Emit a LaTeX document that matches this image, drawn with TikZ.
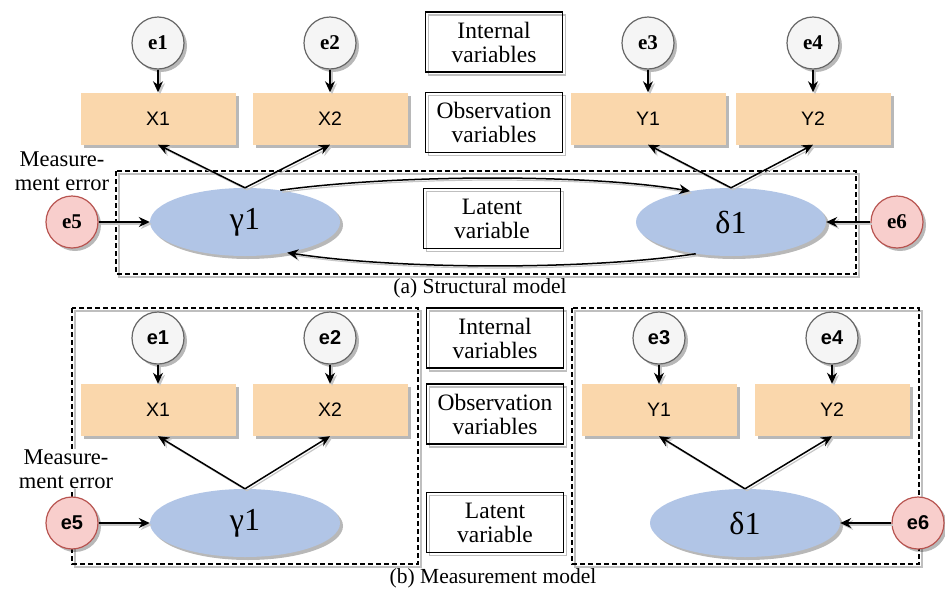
\documentclass[tikz,border=0pt]{standalone}
\usepackage{fontspec}
\setmainfont{Liberation Serif}
\newfontfamily\sansf{Liberation Sans}
\newfontfamily\grkf{Liberation Serif}
\usetikzlibrary{shadows,arrows.meta,shapes.geometric}
\definecolor{obsfill}{RGB}{250,215,172}
\definecolor{latfill}{RGB}{177,197,230}
\definecolor{errfill}{RGB}{245,245,245}
\definecolor{errdraw}{RGB}{102,102,102}
\definecolor{redfill}{RGB}{248,206,204}
\definecolor{reddraw}{RGB}{184,84,80}
\tikzset{
 shad/.style={drop shadow={shadow xshift=3pt, shadow yshift=-3pt, fill=black, opacity=0.28}},
 errc/.style={circle, minimum size=52pt, inner sep=0pt, fill=errfill, draw=errdraw, line width=1.2pt, shad},
 errtop/.style={errc, font=\fontsize{21}{23}\selectfont\bfseries},
 errbot/.style={errc, font=\sansf\fontsize{20}{22}\selectfont\bfseries},
 redtop/.style={errtop, fill=redfill, draw=reddraw},
 redbot/.style={errbot, fill=redfill, draw=reddraw},
 obs/.style={rectangle, minimum width=155pt, minimum height=52pt, fill=obsfill, shad, font=\sansf\fontsize{19.5}{22}\selectfont},
 lat/.style={ellipse, minimum width=190pt, minimum height=68pt, inner sep=0pt, fill=latfill, shad, font=\grkf\fontsize{32}{34}\selectfont},
 legend/.style={rectangle, draw, line width=1.5pt, minimum width=137pt, minimum height=60pt, inner sep=0pt, align=center, font=\fontsize{23.5}{24}\selectfont, preaction={draw=gray!50, line width=1.2pt, transform canvas={shift={(3pt,-3pt)}}}},
 arr/.style={line width=1.5pt, -{Stealth[length=11pt,width=10pt]}, preaction={draw=gray!45, line width=1.2pt, transform canvas={shift={(2pt,-2pt)}}}},
 dbox/.style={line width=1.3pt, dash pattern=on 5pt off 3pt, preaction={draw=gray!50, line width=1.2pt, transform canvas={shift={(3pt,-3pt)}}}},
 note/.style={align=center, font=\fontsize{22.5}{23.5}\selectfont, inner sep=1pt},
 captxt/.style={font=\fontsize{21.5}{22}\selectfont, inner sep=0pt},
}
\begin{document}
\begin{tikzpicture}[x=1pt,y=-1pt]
\useasboundingbox (0,0) rectangle (945,592);
% ---------- (a) structural model ----------
\draw[dbox] (116,171) rectangle (856,274);
\node[errtop] (ae1) at (158,43) {e1};
\node[errtop] (ae2) at (330,43) {e2};
\node[errtop] (ae3) at (648,43) {e3};
\node[errtop] (ae4) at (813,43) {e4};
\node[obs] (aX1) at (158,118.5) {X1};
\node[obs] (aX2) at (330,118.5) {X2};
\node[obs] (aY1) at (648,118.5) {Y1};
\node[obs] (aY2) at (813,118.5) {Y2};
\node[lat] (ag) at (245,222) {γ1};
\node[lat] (ad) at (731,222) {δ1};
\node[redtop] (ae5) at (72,222) {e5};
\node[redtop] (ae6) at (897,222) {e6};
\node[legend] (aint) at (494,42) {Internal\\variables};
\node[legend] (aobs) at (494,122.5) {Observation\\variables};
\node[legend] (alat) at (492,218.5) {Latent\\variable};
\node[note] (ame) at (62,171) {Measure-\\ment error};
\node[captxt] (acap) at (480,288) {(a) Structural model};
\draw[arr] (ae1) -- (aX1.north);
\draw[arr] (ae2) -- (aX2.north);
\draw[arr] (ae3) -- (aY1.north);
\draw[arr] (ae4) -- (aY2.north);
\draw[arr] (ag.north) -- (aX1.south);
\draw[arr] (ag.north) -- (aX2.south);
\draw[arr] (ad.north) -- (aY1.south);
\draw[arr] (ad.north) -- (aY2.south);
\draw[arr] (ae5) -- (ag.west);
\draw[arr] (ae6) -- (ad.east);
\draw[arr] (ag.42) .. controls (400,174) and (590,174) .. (ad.143);
\draw[arr] (ad.222) .. controls (590,270) and (400,270) .. (ag.324);
% ---------- (b) measurement model ----------
\draw[dbox] (72,308) rectangle (418,564);
\draw[dbox] (572,308) rectangle (919,564);
\node[errbot] (be1) at (158,338) {e1};
\node[errbot] (be2) at (330,338) {e2};
\node[errbot] (be3) at (659,338) {e3};
\node[errbot] (be4) at (832,338) {e4};
\node[obs] (bX1) at (158,410) {X1};
\node[obs] (bX2) at (330,410) {X2};
\node[obs] (bY1) at (659,410) {Y1};
\node[obs] (bY2) at (832,410) {Y2};
\node[lat] (bg) at (245,523) {γ1};
\node[lat] (bd) at (745,523) {δ1};
\node[redbot] (be5) at (72,523) {e5};
\node[redbot] (be6) at (918,523) {e6};
\node[legend] (bint) at (495,338) {Internal\\variables};
\node[legend] (bobs) at (495,414) {Observation\\variables};
\node[legend] (blat) at (495,522.5) {Latent\\variable};
\node[note, fill=white] (bme) at (66,469) {Measure-\\ment error};
\node[captxt] (bcap) at (493,578) {(b) Measurement model};
\draw[arr] (be1) -- (bX1.north);
\draw[arr] (be2) -- (bX2.north);
\draw[arr] (be3) -- (bY1.north);
\draw[arr] (be4) -- (bY2.north);
\draw[arr] (bg.north) -- (bX1.south);
\draw[arr] (bg.north) -- (bX2.south);
\draw[arr] (bd.north) -- (bY1.south);
\draw[arr] (bd.north) -- (bY2.south);
\draw[arr] (be5) -- (bg.west);
\draw[arr] (be6) -- (bd.east);
\end{tikzpicture}
\end{document}
